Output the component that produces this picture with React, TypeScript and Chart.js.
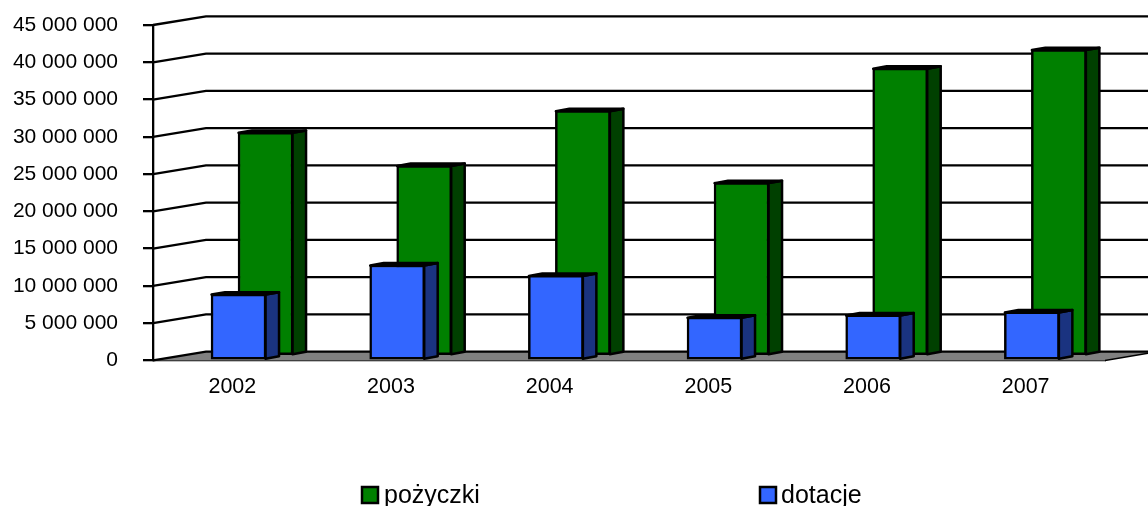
import React, { useEffect, useRef } from "react";
import { Chart, registerables } from "chart.js";

Chart.register(...registerables);

const categories = ["2002", "2003", "2004", "2005", "2006", "2007"];
const pozyczki = [30000000, 25550000, 32900000, 23250000, 38600000, 41100000];
const dotacje = [8900000, 12800000, 11400000, 5800000, 6100000, 6500000];

const FONT = "'Liberation Sans', Arial, sans-serif";
const WALL_DX = 53;
const WALL_DY = -8.7;
const BAR_DX = 13.5;
const BAR_DY = -2.4;
const STROKE = 2.5;

// position of each series inside the depth of the floor: [dx, dy, face, side]
const seriesLook = [
  { dx: 33.2, dy: -4.5, face: "#008000", side: "#004000", top: "#006000" },
  { dx: 6.2, dy: 0, face: "#3366FF", side: "#1A3380", top: "#264DBF" },
];

function poly(ctx: CanvasRenderingContext2D, pts: number[][], fill: string | null, lw = STROKE) {
  ctx.beginPath();
  pts.forEach((p, i) => (i ? ctx.lineTo(p[0], p[1]) : ctx.moveTo(p[0], p[1])));
  ctx.closePath();
  if (fill) {
    ctx.fillStyle = fill;
    ctx.fill();
  }
  if (lw > 0) {
    ctx.lineWidth = lw;
    ctx.strokeStyle = "#000";
    ctx.lineJoin = "round";
    ctx.stroke();
  }
}

const threeD = {
  id: "threeD",
  afterDatasetsUpdate(chart: any) {
    chart.data.datasets.forEach((_: any, di: number) => {
      const look = seriesLook[di];
      chart.getDatasetMeta(di).data.forEach((el: any) => {
        el.x += look.dx;
        el.y += look.dy;
        el.base += look.dy;
      });
    });
  },
  beforeDatasetsDraw(chart: any) {
    const ctx: CanvasRenderingContext2D = chart.ctx;
    const { left, right, bottom } = chart.chartArea;
    const ys = chart.scales.y;
    ctx.save();
    // floor
    poly(
      ctx,
      [
        [left, bottom],
        [right, bottom],
        [right + WALL_DX, bottom + WALL_DY],
        [left + WALL_DX, bottom + WALL_DY],
      ],
      "#808080",
      0
    );
    // wall grid lines
    ctx.strokeStyle = "#000";
    ctx.lineWidth = 2.3;
    ctx.lineJoin = "miter";
    ys.ticks.forEach((t: any) => {
      const y = ys.getPixelForValue(t.value);
      ctx.beginPath();
      ctx.moveTo(left, y);
      ctx.lineTo(left + WALL_DX, y + WALL_DY);
      ctx.lineTo(right + WALL_DX + 10, y + WALL_DY);
      ctx.stroke();
    });
    // right floor edge
    ctx.lineWidth = 1.5;
    ctx.beginPath();
    ctx.moveTo(right, bottom);
    ctx.lineTo(right + WALL_DX, bottom + WALL_DY);
    ctx.stroke();
    ctx.restore();
  },
  beforeDatasetDraw(chart: any, args: any) {
    const ctx: CanvasRenderingContext2D = chart.ctx;
    const look = seriesLook[args.index];
    ctx.save();
    args.meta.data.forEach((el: any) => {
      const r = el.x + el.width / 2 - 0.5;
      const l = el.x - el.width / 2 + 0.5;
      const t = el.y + 0.5;
      const b = el.base - 0.5;
      poly(
        ctx,
        [
          [r, t],
          [r + BAR_DX, t + BAR_DY],
          [r + BAR_DX, b + BAR_DY],
          [r, b],
        ],
        look.side
      );
      poly(
        ctx,
        [
          [l, t],
          [l + BAR_DX, t + BAR_DY],
          [r + BAR_DX, t + BAR_DY],
          [r, t],
        ],
        look.top
      );
    });
    ctx.restore();
  },
  afterDraw(chart: any) {
    const ctx: CanvasRenderingContext2D = chart.ctx;
    const legendX = [
      { box: 362, text: 384 },
      { box: 760, text: 781 },
    ];
    ctx.save();
    ctx.font = `25px ${FONT}`;
    ctx.textAlign = "left";
    ctx.textBaseline = "alphabetic";
    chart.data.datasets.forEach((ds: any, i: number) => {
      ctx.fillStyle = ds.backgroundColor;
      ctx.fillRect(legendX[i].box, 487, 16, 16);
      ctx.lineWidth = 2.5;
      ctx.strokeStyle = "#000";
      ctx.strokeRect(legendX[i].box, 487, 16, 16);
      ctx.fillStyle = "#000";
      ctx.fillText(ds.label, legendX[i].text, 503);
    });
    ctx.restore();
  },
};

export default function App() {
  const ref = useRef<HTMLCanvasElement>(null);
  useEffect(() => {
    const chart = new Chart(ref.current as HTMLCanvasElement, {
      type: "bar",
      data: {
        labels: categories,
        datasets: [
          {
            label: "pożyczki",
            data: pozyczki,
            order: 2,
            backgroundColor: seriesLook[0].face,
            borderColor: "#000",
            borderWidth: STROKE,
            borderSkipped: false,
            grouped: false,
            barThickness: 55,
            clip: false,
          } as any,
          {
            label: "dotacje",
            data: dotacje,
            order: 1,
            backgroundColor: seriesLook[1].face,
            borderColor: "#000",
            borderWidth: STROKE,
            borderSkipped: false,
            grouped: false,
            barThickness: 55,
            clip: false,
          } as any,
        ],
      },
      options: {
        responsive: false,
        animation: false,
        devicePixelRatio: 1,
        layout: { padding: { left: 0, right: 43, top: 25, bottom: 0 } },
        plugins: { legend: { display: false }, tooltip: { enabled: false } },
        scales: {
          x: {
            type: "category",
            afterFit(s: any) {
              s.height = 145.6;
              s.paddingLeft = 0;
              s.paddingRight = 0;
            },
            grid: { display: false, drawTicks: false },
            border: { display: true, color: "#000", width: 2.3 },
            ticks: {
              color: "#000",
              font: { family: FONT, size: 21.5 },
              padding: 14,
              maxRotation: 0,
            },
          },
          y: {
            type: "linear",
            min: 0,
            max: 45000000,
            afterFit(s: any) {
              s.width = 153;
              s.paddingTop = 0;
              s.paddingBottom = 0;
            },
            grid: {
              drawOnChartArea: false,
              drawTicks: true,
              tickLength: 10,
              color: "#000",
              lineWidth: 2.3,
            },
            border: { display: true, color: "#000", width: 2.3 },
            ticks: {
              stepSize: 5000000,
              color: "#000",
              font: { family: FONT, size: 21 },
              padding: 25,
              callback: (v: any) => String(v).replace(/\B(?=(\d{3})+$)/g, " "),
            },
          },
        },
      },
      plugins: [threeD],
    } as any);
    return () => chart.destroy();
  }, []);
  return (
    <div style={{ position: "absolute", left: 0, top: 0, width: 1148, height: 506, overflow: "hidden", background: "#fff" }}>
      <canvas ref={ref} width={1148} height={506} style={{ display: "block" }} />
    </div>
  );
}
